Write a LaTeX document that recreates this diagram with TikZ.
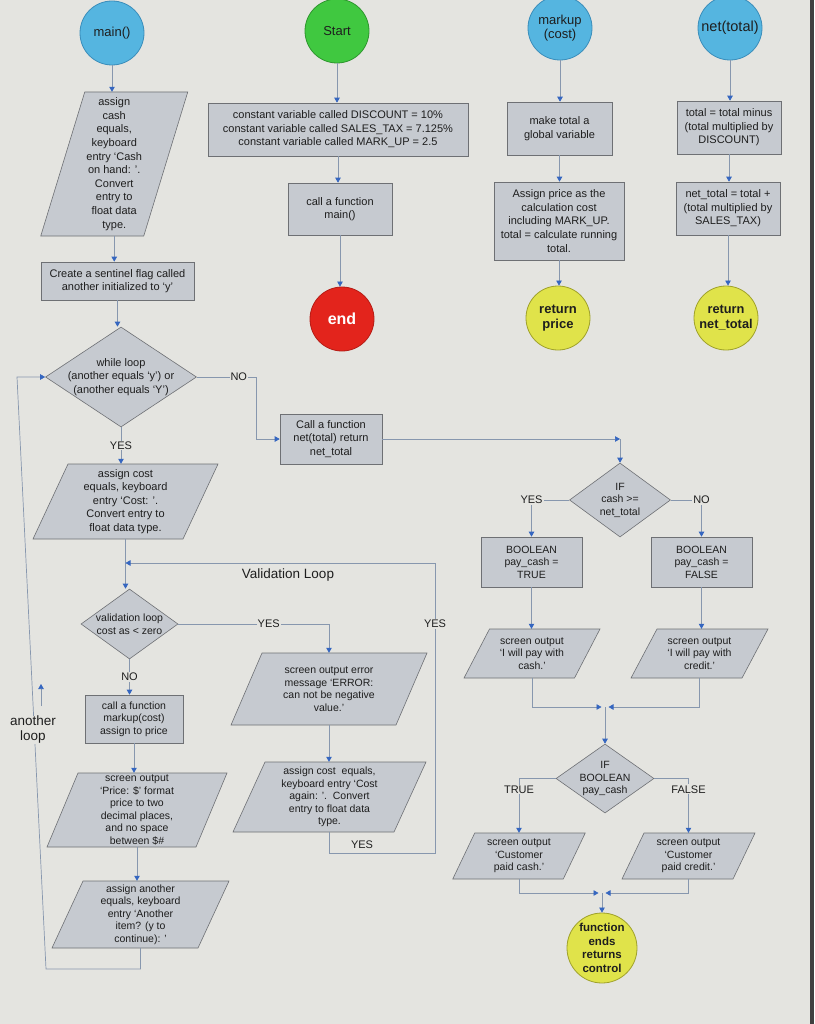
\documentclass[tikz,border=0pt]{standalone}
\usepackage{fontspec}
\setmainfont{Liberation Sans}
\usetikzlibrary{arrows.meta,shapes.geometric}
\definecolor{bgc}{HTML}{E4E4E0}
\definecolor{boxfill}{HTML}{C6CAD0}
\definecolor{boxline}{HTML}{6E7074}
\definecolor{linec}{HTML}{8797AE}
\definecolor{tipc}{HTML}{3566C0}
\definecolor{cblue}{HTML}{55B5E0}
\definecolor{cblueb}{HTML}{3A8DBA}
\definecolor{cgreen}{HTML}{40C840}
\definecolor{cgreenb}{HTML}{2E962E}
\definecolor{cred}{HTML}{E3241C}
\definecolor{credb}{HTML}{B51C15}
\definecolor{cyel}{HTML}{E0E34A}
\definecolor{cyelb}{HTML}{9FA12A}
\definecolor{txtc}{HTML}{1E1E1E}
\newcommand\fsA{\fontsize{11}{13.6}\selectfont}
\newcommand\fsB{\fontsize{10.5}{12.5}\selectfont}
\newcommand\fsL{\fontsize{13.5}{15}\selectfont}
\newcommand\mypgram[8][\fsA]{%
  \draw[pgshape, shift={(#3,#4)}] ({-#5/2+#7/2},{-#6/2}) -- ({#5/2+#7/2},{-#6/2}) -- ({#5/2-#7/2},{#6/2}) -- ({-#5/2-#7/2},{#6/2}) -- cycle;
  \node[pgtext, font=#1, minimum width=#5, minimum height=#6] (#2) at (#3,#4) {#8};}
\begin{document}
\begin{tikzpicture}[x=1pt,y=-1pt,
  box/.style={draw=boxline, fill=boxfill, line width=0.6pt, inner sep=1pt, align=center, font=\fsA, text=txtc},
  pgshape/.style={draw=boxline, fill=boxfill, line width=0.6pt},
  pgtext/.style={inner sep=0pt, align=center, text=txtc},
  dia/.style={diamond, draw=boxline, fill=boxfill, line width=0.6pt, inner sep=0pt},
  txt/.style={inner sep=0pt, align=center, font=\fsA, text=txtc},
  circ/.style={circle, inner sep=0pt, minimum size=64, line width=0.8pt, align=center, font=\fontsize{13}{14.5}\selectfont, text=txtc},
  arr/.style={draw=linec, line width=0.7pt, -{Triangle[width=5.5pt,length=5pt,color=tipc]}},
  lbl/.style={fill=bgc, inner sep=1pt, font=\fsA, text=txtc},
]
\fill[bgc] (0,0) rectangle (814,1024);
\fill[black!75] (810,0) rectangle (814,1024);
\useasboundingbox (0,0) rectangle (814,1024);

% circles
\node[circ, fill=cblue, draw=cblueb] (main) at (112,33) {main()};
\node[circ, fill=cgreen, draw=cgreenb] (start) at (337,31) {Start};
\node[circ, fill=cblue, draw=cblueb] (markup) at (560,28) {markup\\(cost)};
\node[circ, fill=cblue, draw=cblueb, font=\fontsize{14.5}{16}\selectfont] (net) at (730,28) {net(total)};
\node[circ, fill=cred, draw=credb, text=white, font=\bfseries\fontsize{16}{17}\selectfont] (end) at (342,319) {end};
\node[circ, fill=cyel, draw=cyelb, font=\bfseries\fontsize{13}{15}\selectfont] (retprice) at (558,318) {return\\price};
\node[circ, fill=cyel, draw=cyelb, font=\bfseries\fontsize{12.8}{15}\selectfont] (retnet) at (726,318) {return\\net\_total};
\node[circ, fill=cyel, draw=cyelb, minimum size=70, font=\bfseries\fontsize{11.5}{13.5}\selectfont] (fend) at (602,948) {function\\ends\\returns\\control};

% rectangles
\node[box, minimum width=153, minimum height=38] (sentinel) at (117.5,281) {Create a sentinel flag called\\another initialized to `y'};
\node[box, minimum width=102, minimum height=50] (callnet) at (331,439) {Call a function\\net(total) return\\net\_total};
\node[box, minimum width=260, minimum height=53] (consts) at (338,129.5) {constant variable called DISCOUNT = 10\%\\constant variable called SALES\_TAX = 7.125\%\\constant variable called MARK\_UP = 2.5};
\node[box, minimum width=104, minimum height=52] (callmain) at (340,209) {call a function\\main()};
\node[box, minimum width=105, minimum height=53] (maketotal) at (559.5,128.5) {make total a\\global variable};
\node[box, minimum width=130, minimum height=78] (assignprice) at (559,221) {Assign price as the\\calculation cost\\including MARK\_UP.\\total = calculate running\\total.};
\node[box, minimum width=104, minimum height=53] (minus) at (729,127.5) {total = total minus\\(total multiplied by\\DISCOUNT)};
\node[box, minimum width=104, minimum height=53] (nettot) at (728,208.5) {net\_total = total +\\(total multiplied by\\SALES\_TAX)};
\node[box, minimum width=98, minimum height=48, font=\fsB] (callmk) at (134,719) {call a function\\markup(cost)\\assign to price};
\node[box, minimum width=101, minimum height=50, font=\fsB] (booltrue) at (531.5,562) {BOOLEAN\\pay\_cash =\\TRUE};
\node[box, minimum width=101, minimum height=50, font=\fsB] (boolfalse) at (701.5,562) {BOOLEAN\\pay\_cash =\\FALSE};

% parallelograms
\mypgram{pcash}{114.25}{164}{103}{144}{44}{assign\\cash\\equals,\\keyboard\\entry `Cash\\on hand: '.\\Convert\\entry to\\float data\\type.}
\mypgram{pcost}{125.5}{501.5}{150}{75}{35}{assign cost\\equals, keyboard\\entry `Cost: '.\\Convert entry to\\float data type.}
\mypgram[\fsB]{perror}{329}{689}{165}{72}{31}{screen output error\\message `ERROR:\\can not be negative\\value.'}
\mypgram[\fsB]{passign}{329.5}{797}{161}{70}{32}{assign cost\ \ equals,\\keyboard entry `Cost\\again: '.\ \ Convert\\entry to float data\\type.}
\mypgram[\fsB]{pprice}{137}{810}{149}{74}{31}{screen output\\`Price: \$' format\\price to two\\decimal places,\\and no space\\between \$\#}
\mypgram[\fsB]{panother}{140.5}{914.5}{146}{67}{31}{assign another\\equals, keyboard\\entry `Another\\item? (y to\\continue): '}
\mypgram[\fsB]{pcashout}{532}{653.5}{110.5}{49}{25.5}{screen output\\`I will pay with\\cash.'}
\mypgram[\fsB]{pcreditout}{699.5}{653.5}{111}{49}{26}{screen output\\`I will pay with\\credit.'}
\mypgram[\fsB]{pcustcash}{519}{856}{110.5}{46}{22}{screen output\\`Customer\\paid cash.'}
\mypgram[\fsB]{pcustcredit}{688.5}{856}{111}{46}{22}{screen output\\`Customer\\paid credit.'}

% diamonds
\node[dia, minimum width=151, minimum height=100] (while) at (121,377) {};
\node[txt] (whiletxt) at (while) {while loop\\(another equals `y') or\\(another equals `Y')};
\node[dia, minimum width=97, minimum height=70] (valid) at (129.5,624) {};
\node[txt, font=\fsB] (validtxt) at (valid) {validation loop\\cost as < zero};
\node[dia, minimum width=101, minimum height=74] (ifcash) at (620,500) {};
\node[txt, font=\fsB] (ifcashtxt) at (ifcash) {IF\\cash >=\\net\_total};
\node[dia, minimum width=98, minimum height=69] (ifbool) at (605,778.5) {};
\node[txt, font=\fsB] (ifbooltxt) at (ifbool) {IF\\BOOLEAN\\pay\_cash};

% free coordinates
\coordinate (vm) at (125.5,563);
\coordinate (vb) at (435,853);
\coordinate (lb) at (46,969);
\coordinate (lt) at (17,377);
\coordinate (ua1) at (41,706);
\coordinate (ua2) at (41,684);
\coordinate (m2) at (605,707);
\coordinate (m2l) at (601.5,707);
\coordinate (m2r) at (608.5,707);
\coordinate (m3) at (602,893);
\coordinate (m3l) at (598.5,893);
\coordinate (m3r) at (605.5,893);

% main column
\draw[arr] (main) -- (main |- pcash.north);
\draw[arr] (pcash.south) -- (pcash.south |- sentinel.north);
\draw[arr] (sentinel.south) -- (sentinel.south |- while.north);
\draw[arr] (while.east) -- node[lbl,pos=0.7]{NO} ++(60,0) |- (callnet.west);
\coordinate (j1) at (callnet.east -| ifcash.north);
\draw[arr] (callnet.east) -- (j1);
\draw[arr] (j1) -- (ifcash.north);
\draw[arr] (while.south) -- node[lbl,pos=0.5]{YES} (while.south |- pcost.north);
\draw[arr] (pcost.south) -- (pcost.south |- valid.north);
\draw[arr] (passign.south) |- (vb) -- (vb |- vm) -- (vm);
\node[lbl] (yesr) at (435,624) {YES};
\node[txt] (yesb) at (362,845) {YES};
\draw[arr] (valid.east) -| node[lbl,pos=0.3]{YES} (perror.north);
\draw[arr] (perror.south) -- (perror.south |- passign.north);
\draw[arr] (valid.south) -- node[lbl,pos=0.5]{NO} (valid.south |- callmk.north);
\draw[arr] (callmk.south) -- (callmk.south |- pprice.north);
\draw[arr] (pprice.south) -- (pprice.south |- panother.north);
\draw[arr] (panother.south) |- (lb) -- (lt) -- (while.west);
\node[lbl, font=\fsL, align=center, inner sep=0.5pt] (anl) at (33,730) {another\\loop};
\draw[arr] (ua1) -- (ua2);
\node[txt, font=\fsL] (vloop) at (288,575) {Validation Loop};

% start column
\draw[arr] (start) -- (start |- consts.north);
\draw[arr] (consts.south) -- (consts.south |- callmain.north);
\draw[arr] (callmain.south) -- (callmain.south |- end.north);

% markup column
\draw[arr] (markup) -- (markup |- maketotal.north);
\draw[arr] (maketotal.south) -- (maketotal.south |- assignprice.north);
\draw[arr] (assignprice.south) -- (assignprice.south |- retprice.north);

% net column
\draw[arr] (net) -- (net |- minus.north);
\draw[arr] (minus.south) -- (minus.south |- nettot.north);
\draw[arr] (nettot.south) -- (nettot.south |- retnet.north);

% right lower part
\draw[arr] (ifcash.west) -| node[lbl,pos=0.5]{YES} (booltrue.north);
\draw[arr] (ifcash.east) -| node[lbl,pos=0.5]{NO} (boolfalse.north);
\draw[arr] (booltrue.south) -- (booltrue.south |- pcashout.north);
\draw[arr] (boolfalse.south) -- (boolfalse.south |- pcreditout.north);
\draw[arr] (pcashout.south) |- (m2l);
\draw[arr] (pcreditout.south) |- (m2r);
\draw[arr] (m2) -- (ifbool.north);
\draw[arr] (ifbool.west) -| node[lbl,pos=0.6]{TRUE} (pcustcash.north);
\draw[arr] (ifbool.east) -| node[lbl,pos=0.6]{FALSE} (pcustcredit.north);
\draw[arr] (pcustcash.south) |- (m3l);
\draw[arr] (pcustcredit.south) |- (m3r);
\draw[arr] (m3) -- (fend.north);
\end{tikzpicture}
\end{document}
